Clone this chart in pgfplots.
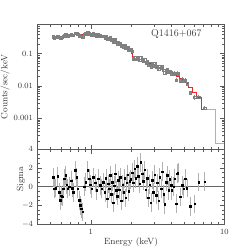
\documentclass[border=0pt]{standalone}
\usepackage{pgfplots}
\usepackage{pgfplotstable}
\pgfplotsset{compat=1.18}
\pgfplotstableread{
E D e R M
0.524 0.340 0.07 1.0 0.318
0.533 0.316 0.07 -0.2 0.320
0.546 0.320 0.07 -0.15 0.323
0.566 0.355 0.07 1.1 0.330
0.578 0.320 0.07 -0.6 0.334
0.588 0.303 0.07 -1.45 0.337
0.599 0.317 0.07 -0.95 0.340
0.612 0.318 0.07 -1.1 0.344
0.623 0.343 0.07 -0.2 0.348
0.634 0.372 0.07 0.85 0.351
0.649 0.386 0.07 1.2 0.356
0.661 0.365 0.07 0.2 0.360
0.672 0.358 0.07 -0.2 0.363
0.691 0.368 0.07 0.0 0.368
0.712 0.391 0.07 0.65 0.374
0.728 0.375 0.07 -0.15 0.379
0.740 0.367 0.07 -0.6 0.383
0.763 0.438 0.07 1.75 0.390
0.785 0.425 0.07 1.0 0.397
0.799 0.394 0.07 -0.2 0.400
0.817 0.363 0.07 -1.45 0.404
0.831 0.349 0.07 -2.0 0.406
0.846 0.341 0.07 -2.35 0.408
0.871 0.333 0.07 -2.7 0.410
0.895 0.410 0.07 0.0 0.410
0.917 0.422 0.07 0.5 0.408
0.950 0.452 0.07 1.75 0.403
0.971 0.422 0.07 0.85 0.398
0.988 0.400 0.07 0.2 0.394
1.017 0.385 0.07 -0.2 0.390
1.046 0.413 0.07 1.0 0.386
1.077 0.392 0.07 0.4 0.381
1.109 0.364 0.07 -0.4 0.374
1.140 0.388 0.07 0.85 0.366
1.174 0.361 0.07 0.15 0.357
1.209 0.342 0.07 -0.2 0.347
1.243 0.348 0.07 0.5 0.336
1.275 0.309 0.08 -0.6 0.325
1.298 0.340 0.08 0.9 0.317
1.321 0.277 0.08 -1.3 0.309
1.345 0.307 0.08 0.3 0.300
1.369 0.287 0.08 -0.2 0.292
1.394 0.311 0.08 1.2 0.284
1.419 0.258 0.08 -0.8 0.276
1.445 0.278 0.08 0.5 0.267
1.471 0.224 0.08 -1.7 0.259
1.497 0.252 0.08 0.1 0.250
1.524 0.269 0.08 1.4 0.242
1.551 0.226 0.08 -0.4 0.233
1.579 0.206 0.08 -1.0 0.224
1.608 0.227 0.08 0.7 0.215
1.637 0.202 0.08 -0.3 0.207
1.666 0.215 0.08 1.0 0.199
1.696 0.168 0.08 -1.5 0.191
1.727 0.186 0.08 0.2 0.183
1.758 0.167 0.08 -0.6 0.175
1.789 0.180 0.08 0.9 0.168
1.821 0.146 0.08 -1.2 0.161
1.854 0.159 0.08 0.4 0.154
1.888 0.162 0.08 1.3 0.147
1.922 0.135 0.08 -0.5 0.141
1.956 0.140 0.08 0.6 0.134
1.991 0.132 0.10 0.8 0.122
2.035 0.121 0.10 1.5 0.105
2.080 0.0707 0.10 0.4 0.068
2.125 0.0762 0.10 1.9 0.064
2.172 0.0687 0.10 0.9 0.063
2.220 0.0756 0.10 2.2 0.062
2.269 0.0677 0.10 1.1 0.061
2.319 0.0618 0.10 0.3 0.060
2.370 0.0743 0.10 2.6 0.059
2.422 0.0661 0.10 1.4 0.058
2.475 0.0594 0.10 0.6 0.056
2.530 0.0649 0.10 1.8 0.055
2.585 0.0524 0.10 -0.3 0.054
2.642 0.0567 0.10 0.9 0.052
2.700 0.0449 0.10 -1.2 0.051
2.760 0.0500 0.10 0.2 0.049
2.820 0.0398 0.10 -1.7 0.048
2.882 0.0492 0.10 0.7 0.046
2.946 0.0423 0.10 -0.6 0.045
3.011 0.0486 0.10 1.3 0.043
3.077 0.0382 0.10 -0.9 0.042
3.145 0.0416 0.10 0.4 0.040
3.214 0.0332 0.10 -1.5 0.039
3.284 0.0407 0.10 1.0 0.037
3.357 0.0353 0.10 -0.2 0.036
3.430 0.0394 0.10 1.6 0.034
3.506 0.0304 0.10 -0.8 0.033
3.583 0.0259 0.10 -1.9 0.032
3.662 0.0315 0.10 0.5 0.030
3.742 0.0325 0.10 1.2 0.029
3.825 0.0269 0.10 -0.4 0.028
3.909 0.0292 0.10 0.8 0.027
3.99 0.0266 0.15 0.15 0.026
4.04 0.0240 0.15 -0.4 0.0255
4.17 0.0235 0.15 0.0 0.0235
4.24 0.0254 0.15 0.85 0.0225
4.37 0.0153 0.15 -1.8 0.021
4.42 0.0246 0.15 1.4 0.0203
4.49 0.0239 0.15 1.5 0.0195
4.67 0.0146 0.15 -1.1 0.0175
4.82 0.0164 0.15 0.15 0.016
4.95 0.0144 0.15 -0.2 0.0148
5.10 0.0152 0.15 0.85 0.0135
5.25 0.0117 0.15 -0.15 0.012
5.56 0.0062 0.16 -2.1 0.0093
5.98 0.0045 0.16 -1.85 0.0064
6.41 0.0046 0.16 0.5 0.0043
7.11 0.0021 0.16 0.55 0.0019
}\datatab
\definecolor{modelred}{RGB}{230,40,40}
\definecolor{tailpink}{RGB}{245,150,150}
\begin{document}
\begin{tikzpicture}
\useasboundingbox (0,0) rectangle (249pt,249pt);
\begin{axis}[at={(37.7pt,99.7pt)}, anchor=south west,
  scale only axis, width=186.6pt, height=124.8pt,
  xmode=log, ymode=log, xmin=0.4, xmax=10, ymin=1.1e-4, ymax=0.8,
  tick align=inside, major tick length=4.5pt, minor tick length=2.5pt,
  axis line style={black!65, line width=0.5pt},
  every tick/.style={black!65, line width=0.4pt},
  every tick label/.append style={font=\fontsize{8}{9}\selectfont, text=black!80},
  xtick={1,10}, xticklabels={},
  minor xtick={0.4,0.5,0.6,0.7,0.8,0.9,2,3,4,5,6,7,8,9},
  ytick={0.001,0.01,0.1}, yticklabels={0.001,0.01,0.1},
  minor ytick={0.0002,0.0003,0.0004,0.0005,0.0006,0.0007,0.0008,0.0009,0.002,0.003,0.004,0.005,0.006,0.007,0.008,0.009,0.02,0.03,0.04,0.05,0.06,0.07,0.08,0.09,0.2,0.3,0.4,0.5,0.6,0.7,0.8},
  yticklabel style={xshift=-1.2pt},
  ylabel={Counts/sec/keV},
  every axis y label/.style={at={(axis description cs:-0.175,0.5)}, rotate=90, anchor=center, font=\fontsize{9}{10}\selectfont, text=black!80},
]
\addplot[only marks, mark=square, mark size=1.2pt, color=black!50, line width=0.35pt,
  error bars/.cd, y dir=both, y explicit relative, error mark=none,
  error bar style={black!45, line width=0.35pt}]
  table[x=E, y=D, y error=e] {\datatab};
\addplot[const plot mark mid, draw=modelred, no marks, line width=0.7pt] table[x=E, y=M] {\datatab};
\addplot[sharp plot, draw=tailpink, no marks, line width=0.8pt] coordinates {(7.11,0.0019)(8.55,0.0019)(8.55,0.00017)(10,0.00017)};
\node[font=\fontsize{10}{11}\selectfont, text=black!75] at (rel axis cs:0.743,0.921) {Q1416+067};
\end{axis}
\begin{axis}[at={(37.7pt,25pt)}, anchor=south west,
  scale only axis, width=186.6pt, height=74.7pt,
  xmode=log, xmin=0.4, xmax=10, ymin=-4, ymax=4,
  tick align=inside, major tick length=4.5pt, minor tick length=2.5pt,
  axis line style={black!65, line width=0.5pt},
  every tick/.style={black!65, line width=0.4pt},
  every tick label/.append style={font=\fontsize{8}{9}\selectfont, text=black!80},
  xtick={1,10}, xticklabels={1,10},
  minor xtick={0.4,0.5,0.6,0.7,0.8,0.9,2,3,4,5,6,7,8,9},
  ytick={-4,-2,0,2,4}, minor y tick num=3,
  xticklabel style={yshift=-1.2pt},
  yticklabel style={xshift=-1.2pt},
  xlabel={Energy (keV)}, ylabel={Sigma},
  every axis x label/.style={at={(axis description cs:0.5,-0.25)}, anchor=center, font=\fontsize{9}{10}\selectfont, text=black!80},
  every axis y label/.style={at={(axis description cs:-0.09,0.6)}, rotate=90, anchor=center, font=\fontsize{9}{10}\selectfont, text=black!80},
]
\addplot[black!60, no marks, line width=0.4pt] coordinates {(0.4,0)(10,0)};
\addplot[only marks, mark=square*, mark size=0.75pt, black,
  error bars/.cd, y dir=both, y fixed=1, error mark=none,
  error bar style={black!30, line width=0.7pt}]
  table[x=E, y=R] {\datatab};
\end{axis}
\end{tikzpicture}
\end{document}
